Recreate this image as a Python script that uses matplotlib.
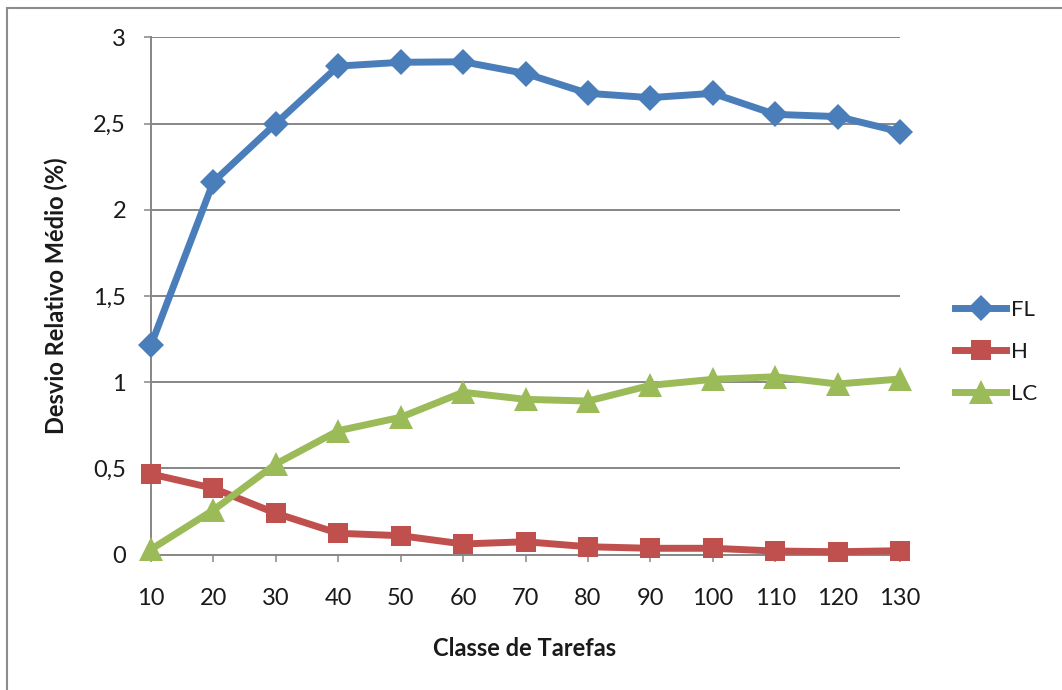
import matplotlib
matplotlib.use("Agg")
import matplotlib.pyplot as plt
from matplotlib.patches import Rectangle

plt.rcParams['font.family'] = ['Lato', 'DejaVu Sans']

# task classes and mean relative deviation (%) per method
classes = [10, 20, 30, 40, 50, 60, 70, 80, 90, 100, 110, 120, 130]
fl = [1.215, 2.162, 2.50, 2.833, 2.855, 2.858, 2.79, 2.675, 2.65, 2.675, 2.553, 2.54, 2.452]
h = [0.467, 0.384, 0.239, 0.123, 0.109, 0.061, 0.074, 0.045, 0.036, 0.036, 0.020, 0.016, 0.022]
lc = [0.03, 0.258, 0.525, 0.718, 0.796, 0.941, 0.90, 0.89, 0.981, 1.016, 1.031, 0.989, 1.018]

yticks = [0, 0.5, 1, 1.5, 2, 2.5, 3]
ytick_labels = ["0", "0,5", "1", "1,5", "2", "2,5", "3"]

W, H = 1062, 690
fig = plt.figure(figsize=(W / 100, H / 100), dpi=100)
fig.patch.set_facecolor("white")

# chart area border (left and top edges visible)
fig.patches.append(Rectangle((6.5 / W, -0.1), 1.2, 1.1 - 8 / H,
                             transform=fig.transFigure, fill=False,
                             edgecolor="#8c8c8c", linewidth=1.5))

ax = fig.add_axes([151 / W, 1 - 554.5 / H, (900 - 151) / W, (554.5 - 37.3) / H])

grid_col = "#868686"
ax.set_xlim(10, 130)
ax.set_ylim(0, 3)
ax.set_yticks(yticks)
ax.set_yticklabels(ytick_labels)
ax.set_xticks(classes)
for yv in yticks[1:]:
    ax.axhline(yv, color=grid_col, linewidth=1.4, zorder=1)

for side in ["top", "right"]:
    ax.spines[side].set_visible(False)
for side in ["left", "bottom"]:
    ax.spines[side].set_color(grid_col)
    ax.spines[side].set_linewidth(1.4)

ax.tick_params(axis="both", direction="out", length=5, width=1.1, color=grid_col,
               labelsize=17, labelcolor="#1a1a1a")
ax.tick_params(axis="y", pad=13)
ax.tick_params(axis="x", pad=19)

ax.plot(classes, fl, color="#4a7ebb", linewidth=5, marker="D", markersize=13,
        markeredgewidth=0, label="FL", zorder=3, clip_on=False)
ax.plot(classes, h, color="#c0504d", linewidth=5, marker="s", markersize=14,
        markeredgewidth=0, label="H", zorder=3, clip_on=False)
ax.plot(classes, lc, color="#9bbb59", linewidth=5, marker="^", markersize=17,
        markeredgewidth=0, label="LC", zorder=3, clip_on=False)

# axis titles placed in figure pixels
fig.text(525 / W, 1 - 648 / H, "Classe de Tarefas", fontsize=17, fontweight="bold",
         color="#1a1a1a", ha="center", va="center")
fig.text(56 / W, 1 - 296 / H, "Desvio Relativo Médio (%)", fontsize=17, fontweight="bold",
         color="#1a1a1a", ha="center", va="center", rotation=90)

leg = ax.legend(loc="center left", bbox_to_anchor=(955 / W, 1 - 352 / H),
                bbox_transform=fig.transFigure, frameon=False, fontsize=16,
                handlelength=2.3, handletextpad=0.2, labelspacing=1.0,
                borderaxespad=0, borderpad=0)
for t in leg.get_texts():
    t.set_color("#1a1a1a")

fig.savefig("out.png", dpi=100, facecolor="white")
